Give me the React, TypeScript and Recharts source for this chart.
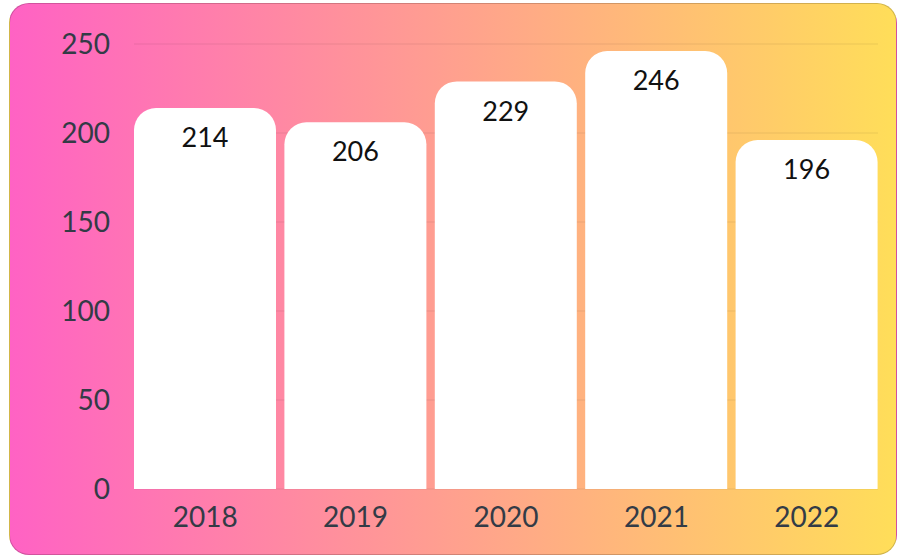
import { BarChart, Bar, XAxis, YAxis, CartesianGrid, LabelList } from 'recharts'

const YEARS = ['2018', '2019', '2020', '2021', '2022']
const VALUES = [214, 206, 229, 246, 196]
const Y_TICKS = [0, 50, 100, 150, 200, 250]

const FONT = 'Lato, "Open Sans", sans-serif'

export default function App() {
  const data = YEARS.map((year, i) => ({ year, value: VALUES[i] }))

  return (
    <div
      style={{
        position: 'absolute',
        left: 9,
        top: 3,
        width: 888,
        height: 552,
        borderRadius: 20,
        overflow: 'hidden',
        border: '1px solid rgba(0,0,0,0.18)',
        boxSizing: 'border-box',
        background: 'linear-gradient(90deg, #ff62c4 0%, #ffde59 100%)',
        fontFamily: FONT,
      }}
    >
      <BarChart
        width={886}
        height={550}
        data={data}
        margin={{ top: 40, right: 14, bottom: 0, left: 0 }}
        barCategoryGap={4}
      >
        <CartesianGrid
          vertical={false}
          stroke="rgba(0,0,0,0.08)"
          horizontal={(p: any) => (
            <line
              key={p.key}
              x1={p.x1 + 4}
              x2={p.x2 - 4}
              y1={p.y1}
              y2={p.y2}
              stroke="rgba(0,0,0,0.08)"
              strokeWidth={1}
            />
          )}
        />
        <XAxis
          dataKey="year"
          axisLine={false}
          tickLine={false}
          tickSize={0}
          tickMargin={18}
          height={65}
          tick={{ fill: '#333b46', fontSize: 28, fontFamily: FONT }}
        />
        <YAxis
          domain={[0, 250]}
          ticks={Y_TICKS}
          axisLine={false}
          tickLine={false}
          tickSize={0}
          tickMargin={20}
          width={120}
          tick={{ fill: '#333b46', fontSize: 28, fontFamily: FONT }}
        />
        <Bar dataKey="value" fill="#ffffff" radius={[22, 22, 0, 0]} isAnimationActive={false}>
          <LabelList
            dataKey="value"
            position="insideTop"
            offset={20}
            fill="#111111"
            fontSize={27}
            fontFamily={FONT}
          />
        </Bar>
      </BarChart>
    </div>
  )
}
